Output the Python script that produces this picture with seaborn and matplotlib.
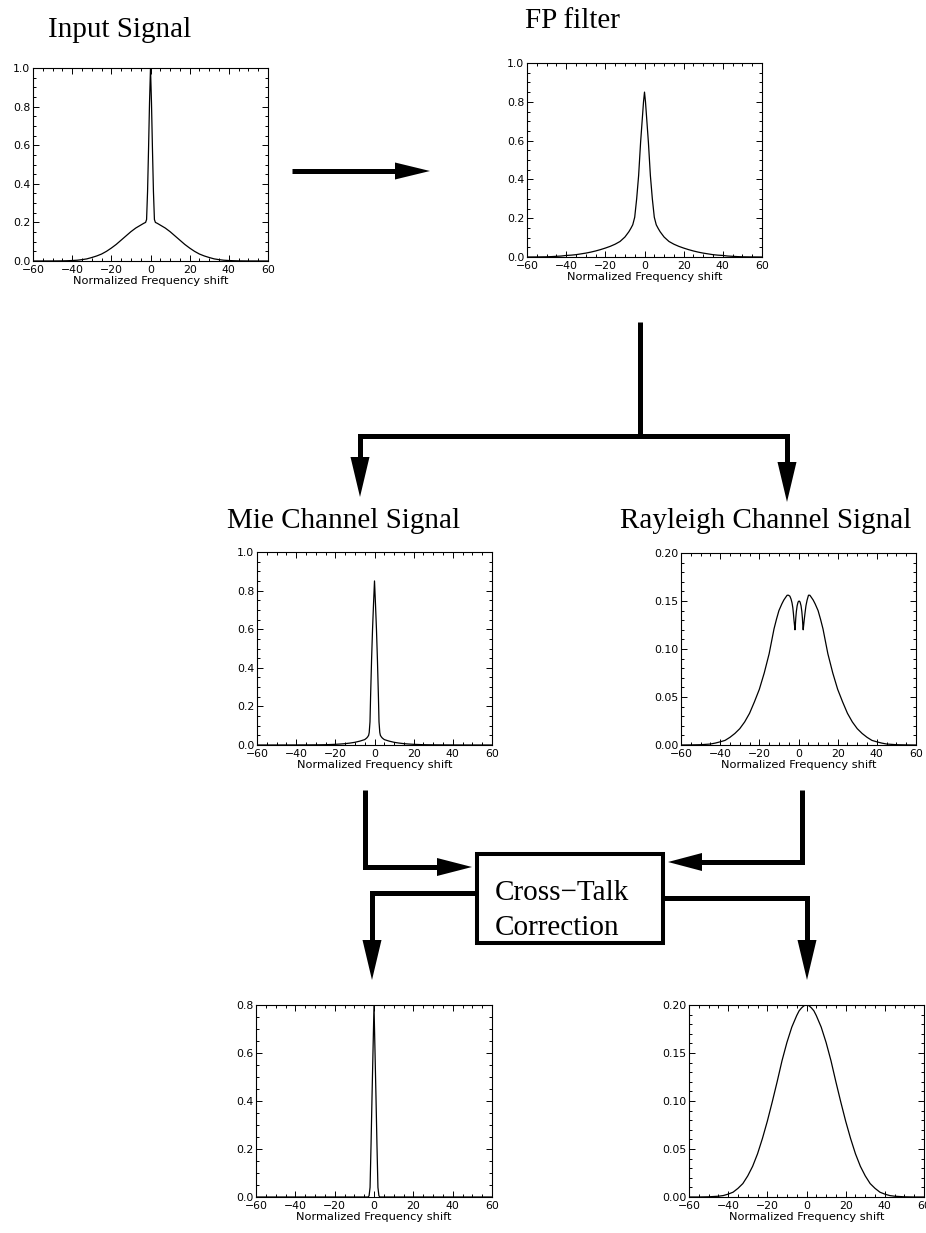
import numpy as np
import pandas as pd
import matplotlib
matplotlib.use("Agg")
import matplotlib.pyplot as plt
import seaborn as sns
from matplotlib.ticker import MultipleLocator, FormatStrFormatter
from matplotlib.patches import Polygon, Rectangle

# ---------------- data ----------------
input_x = [-60, -55, -50, -47.5, -45, -42.5, -40, -37.5, -35, -32.5, -30, -27.5, -25, -22.5, -20,
           -17.5, -15, -12.5, -10, -7.5, -5, -3.5, -2.5, -2, -1.5, -1, -0.5, 0,
           0.5, 1, 1.5, 2, 2.5, 3.5, 5, 7.5, 10, 12.5, 15, 17.5, 20, 22.5, 25, 27.5, 30,
           32.5, 35, 37.5, 40, 42.5, 45, 47.5, 50, 55, 60]
input_y = [0.0, 0.0001, 0.0002, 0.0004, 0.0008, 0.0014, 0.0025, 0.004, 0.007, 0.011, 0.018, 0.026, 0.036, 0.050, 0.067,
           0.086, 0.108, 0.130, 0.152, 0.171, 0.186, 0.195, 0.200, 0.215, 0.36, 0.58, 0.82, 1.0,
           0.82, 0.58, 0.36, 0.215, 0.200, 0.195, 0.186, 0.171, 0.152, 0.130, 0.108, 0.086, 0.067, 0.050, 0.036, 0.026, 0.018,
           0.011, 0.007, 0.004, 0.0025, 0.0014, 0.0008, 0.0004, 0.0002, 0.0001, 0.0]

fp_x = [-60, -55, -50, -47.5, -45, -42.5, -40, -37.5, -35, -32.5, -30, -27.5, -25, -22.5, -20,
        -17.5, -15, -12.5, -10, -8, -7, -6, -5, -4, -3, -2, -1, -0.5, 0,
        0.5, 1, 2, 3, 4, 5, 6, 7, 8, 10, 12.5, 15, 17.5, 20, 22.5, 25, 27.5, 30,
        32.5, 35, 37.5, 40, 42.5, 45, 47.5, 50, 55, 60]
fp_y = [0.0, 0.0003, 0.001, 0.002, 0.0035, 0.005, 0.008, 0.0095, 0.012, 0.016, 0.020, 0.025, 0.031, 0.038, 0.046,
        0.055, 0.066, 0.080, 0.103, 0.130, 0.147, 0.166, 0.205, 0.30, 0.42, 0.59, 0.73, 0.80, 0.85,
        0.80, 0.73, 0.59, 0.42, 0.30, 0.205, 0.166, 0.147, 0.130, 0.103, 0.080, 0.066, 0.055, 0.046, 0.038, 0.031, 0.025, 0.020,
        0.016, 0.012, 0.0095, 0.008, 0.005, 0.0035, 0.002, 0.001, 0.0003, 0.0]

mie_x = [-60, -50, -40, -35, -30, -25, -20, -17.5, -15, -12.5, -10, -7.5, -5, -4, -3.5, -3, -2.7, -2.3, -2,
         -1.5, -1, -0.5, 0, 0.5, 1, 1.5,
         2, 2.3, 2.7, 3, 3.5, 4, 5, 7.5, 10, 12.5, 15, 17.5, 20, 25, 30, 35, 40, 50, 60]
mie_y = [0.0, 0.0001, 0.0003, 0.0005, 0.0008, 0.0015, 0.0035, 0.005, 0.007, 0.010, 0.014, 0.020, 0.028, 0.036, 0.042, 0.050, 0.065, 0.12, 0.25,
         0.44, 0.60, 0.73, 0.85, 0.73, 0.60, 0.44,
         0.25, 0.12, 0.065, 0.050, 0.042, 0.036, 0.028, 0.020, 0.014, 0.010, 0.007, 0.005, 0.0035, 0.0015, 0.0008, 0.0005, 0.0003, 0.0001, 0.0]

ray_x = [-60, -55, -50, -45, -42.5, -40, -37.5, -35, -32.5, -30, -27.5, -25, -22.5, -20, -17.5, -15, -13.75, -12.5,
         -11.25, -10, -8.5, -7.5, -6.5, -5.8, -5.1, -4.4, -3.8, -3.3, -2.9, -2.6, -2.3, -2.0, -1.8, -1.6, -1.4,
         -1.1, -0.7, -0.2, 0.3, 0.8, 1.3, 1.7, 2.0, 2.2, 2.4, 2.6, 2.9, 3.3, 3.8, 4.4, 5.1, 5.8, 6.5, 7.5, 8.5,
         10, 11.25, 12.5, 13.75, 15, 17.5, 20, 22.5, 25, 27.5, 30, 32.5, 35, 37.5, 40, 42.5, 45, 50, 55, 60]
ray_y = [0.0, 0.0001, 0.0003, 0.001, 0.002, 0.0033, 0.0048, 0.008, 0.012, 0.017, 0.024, 0.033, 0.045, 0.058, 0.075, 0.095, 0.108, 0.121,
         0.131, 0.140, 0.147, 0.151, 0.154, 0.156, 0.156, 0.155, 0.152, 0.148, 0.143, 0.137, 0.130, 0.124, 0.120, 0.125, 0.132,
         0.139, 0.145, 0.149, 0.150, 0.149, 0.145, 0.139, 0.132, 0.125, 0.120, 0.124, 0.130, 0.137, 0.145, 0.151, 0.156, 0.156, 0.154, 0.151, 0.147,
         0.140, 0.131, 0.121, 0.108, 0.095, 0.075, 0.058, 0.045, 0.033, 0.024, 0.017, 0.012, 0.008, 0.0048, 0.0033, 0.002, 0.001, 0.0003, 0.0001, 0.0]

mie_corr_x = [-60, -40, -20, -5, -3, -2.5, -2, -1.5, -1, -0.5, 0, 0.5, 1, 1.5, 2, 2.5, 3, 5, 20, 40, 60]
mie_corr_y = [0.0, 0.0, 0.0, 0.0, 0.0, 0.005, 0.04, 0.22, 0.42, 0.61, 0.80, 0.61, 0.42, 0.22, 0.04, 0.005, 0.0, 0.0, 0.0, 0.0, 0.0]

ray_corr_x = [-60, -55, -50, -45, -42.5, -40, -37.5, -35, -32.5, -30, -27.5, -25, -22.5, -20, -17.5, -15, -12.5, -10,
              -7.5, -5, -3.75, -2.5, -1.25, 0, 1.25, 2.5, 3.75, 5, 7.5, 10, 12.5, 15, 17.5, 20, 22.5, 25, 27.5, 30, 32.5, 35,
              37.5, 40, 42.5, 45, 50, 55, 60]
ray_corr_y = [0.0, 0.0, 0.0002, 0.0008, 0.0015, 0.003, 0.005, 0.009, 0.014, 0.022, 0.032, 0.045, 0.061, 0.079, 0.099, 0.120, 0.142, 0.161,
              0.177, 0.189, 0.194, 0.197, 0.1993, 0.200, 0.1993, 0.197, 0.194, 0.189, 0.177, 0.161, 0.142, 0.120, 0.099, 0.079, 0.061, 0.045, 0.032,
              0.022, 0.014, 0.009, 0.005, 0.003, 0.0015, 0.0008, 0.0002, 0.0, 0.0]

x_ticks = [-60, -40, -20, 0, 20, 40, 60]
y_ticks_big = [0.0, 0.2, 0.4, 0.6, 0.8, 1.0]
y_ticks_mie_corr = [0.0, 0.2, 0.4, 0.6, 0.8]
y_ticks_small = [0.00, 0.05, 0.10, 0.15, 0.20]
x_label = "Normalized Frequency shift"

titles = ["Input Signal", "FP filter", "Mie Channel Signal", "Rayleigh Channel Signal"]
box_lines = ["Cross\u2212Talk", "Correction"]

# ---------------- styling ----------------
sns.set_theme(style="ticks")
plt.rcParams['font.family'] = ['DejaVu Sans']
plt.rcParams['axes.edgecolor'] = 'black'
plt.rcParams['axes.linewidth'] = 0.8

W, H = 926, 1233
fig = plt.figure(figsize=(W / 100, H / 100), dpi=100)

# overlay for diagram (pixel coordinates)
ov = fig.add_axes([0, 0, 1, 1])
ov.set_xlim(0, W)
ov.set_ylim(H, 0)
ov.axis('off')


def add_axes(l, r, t, b):
    return fig.add_axes([l / W, 1 - b / H, (r - l) / W, (b - t) / H])


panels = [
    ((33, 268, 68, 261), input_x, input_y, (0, 1.0), y_ticks_big, 0.05, "%.1f"),
    ((527, 762, 63, 257), fp_x, fp_y, (0, 1.0), y_ticks_big, 0.05, "%.1f"),
    ((257, 492, 552, 745), mie_x, mie_y, (0, 1.0), y_ticks_big, 0.05, "%.1f"),
    ((681, 916, 553, 745), ray_x, ray_y, (0, 0.20), y_ticks_small, 0.01, "%.2f"),
    ((256, 492, 1005, 1197), mie_corr_x, mie_corr_y, (0, 0.8), y_ticks_mie_corr, 0.05, "%.1f"),
    ((689, 924, 1005, 1197), ray_corr_x, ray_corr_y, (0, 0.20), y_ticks_small, 0.01, "%.2f"),
]

for (box, xs, ys, ylim, yt, yminor, fmt) in panels:
    ax = add_axes(*box)
    df = pd.DataFrame({"shift": xs, "signal": ys})
    sns.lineplot(data=df, x="shift", y="signal", ax=ax, color="black", lw=0.9,
                 estimator=None, sort=False)
    ax.set_xlim(-60, 60)
    ax.set_ylim(*ylim)
    ax.set_xticks(x_ticks)
    ax.set_yticks(yt)
    ax.xaxis.set_minor_locator(MultipleLocator(5))
    ax.yaxis.set_minor_locator(MultipleLocator(yminor))
    ax.yaxis.set_major_formatter(FormatStrFormatter(fmt))
    ax.tick_params(which='both', direction='in', top=True, right=True,
                   labelsize=7.8, colors='black', width=0.7)
    ax.tick_params(axis='x', which='both', pad=3)
    ax.tick_params(axis='y', which='both', pad=2)
    ax.tick_params(which='major', length=4.5)
    ax.tick_params(which='minor', length=2.5)
    ax.set_xlabel(x_label, fontsize=8.2, labelpad=0.5, color='black')
    ax.set_ylabel("")
    for s in ax.spines.values():
        s.set_visible(True)
        s.set_color('black')
        s.set_linewidth(0.8)

LW = 3.6


def line(pts):
    xs = [p[0] for p in pts]
    ys = [p[1] for p in pts]
    ov.plot(xs, ys, color='black', lw=LW, solid_capstyle='butt', solid_joinstyle='miter')


def head(pts):
    ov.add_patch(Polygon(pts, closed=True, fc='black', ec='none'))


# input -> FP filter
line([(292, 171), (397, 171)])
head([(395, 162.5), (395, 179.5), (430, 171)])

# FP filter split
line([(640, 322), (640, 436)])
line([(360, 459), (360, 436), (787, 436), (787, 464)])
head([(350.5, 457), (369.5, 457), (360, 497)])
head([(777.5, 462), (796.5, 462), (787, 502)])

# into cross-talk box
line([(365, 790), (365, 867), (439, 867)])
head([(437, 858), (437, 876), (472, 867)])
line([(802, 790), (802, 862), (700, 862)])
head([(702, 853), (702, 871), (668, 862)])

# box
ov.add_patch(Rectangle((477, 854), 186, 89, fill=False, ec='black', lw=2.9))

# outputs
line([(477, 893), (372, 893), (372, 942)])
head([(362.5, 940), (381.5, 940), (372, 980)])
line([(663, 898), (807, 898), (807, 942)])
head([(797.5, 940), (816.5, 940), (807, 980)])

serif = dict(family=['Liberation Serif', 'DejaVu Serif'], fontsize=21, color='black', va='baseline', ha='left')
ov.text(48, 37, titles[0], **serif)
ov.text(525, 28, titles[1], **serif)
ov.text(227, 528, titles[2], **serif)
ov.text(620, 528, titles[3], **serif)
ov.text(495, 900, box_lines[0], **serif)
ov.text(495, 935, box_lines[1], **serif)

fig.savefig("out.png", dpi=100)
